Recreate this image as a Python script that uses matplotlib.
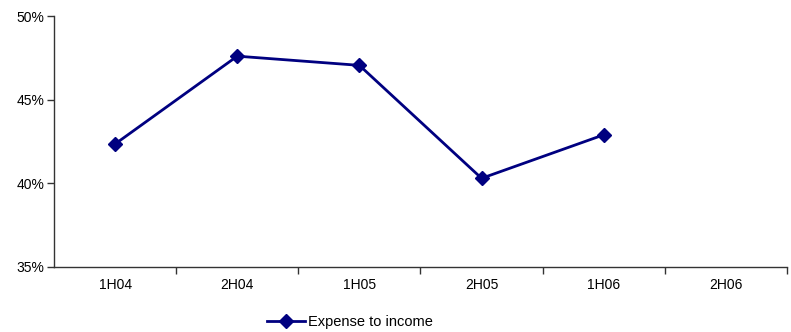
import matplotlib
matplotlib.use("Agg")
import matplotlib.pyplot as plt
from matplotlib.ticker import FixedLocator, NullFormatter

plt.rcParams['font.family'] = ['Liberation Sans', 'DejaVu Sans']

periods = ["1H04", "2H04", "1H05", "2H05", "1H06", "2H06"]
expense_to_income = [42.35, 47.6, 47.05, 40.3, 42.9, None]
y_ticks = [35, 40, 45, 50]
y_tick_labels = ["35%", "40%", "45%", "50%"]

color = "#000080"

fig = plt.figure(figsize=(7.91, 3.32), dpi=100)
ax = fig.add_axes([54 / 791, 1 - 267 / 332, (787 - 54) / 791, (267 - 16) / 332])

xs = [i for i, v in enumerate(expense_to_income) if v is not None]
ys = [v for v in expense_to_income if v is not None]
line, = ax.plot(xs, ys, color=color, lw=2, marker="D", markersize=7,
                markerfacecolor=color, markeredgecolor=color,
                label="Expense to income")

ax.set_xlim(-0.5, len(periods) - 0.5)
ax.set_ylim(35, 50)
ax.set_yticks(y_ticks)
ax.set_yticklabels(y_tick_labels, fontsize=10)

# category labels centred, ticks on category boundaries
ax.set_xticks(range(len(periods)))
ax.set_xticklabels(periods, fontsize=10)
ax.tick_params(axis="x", which="major", length=0, pad=8)
ax.xaxis.set_minor_locator(FixedLocator([i + 0.5 for i in range(len(periods))]))
ax.xaxis.set_minor_formatter(NullFormatter())
ax.tick_params(axis="x", which="minor", length=5, width=1, direction="out", color="#333333")
ax.tick_params(axis="y", length=5, width=1, direction="out", color="#333333", pad=2)

for side in ("top", "right"):
    ax.spines[side].set_visible(False)
for side in ("left", "bottom"):
    ax.spines[side].set_color("#333333")
    ax.spines[side].set_linewidth(1)

fig.legend(handles=[line], loc="center", bbox_to_anchor=(350 / 791, 1 - 322 / 332),
           frameon=False, fontsize=10.5, handlelength=2.6, handletextpad=0.2)

fig.savefig("out.png", dpi=100)
